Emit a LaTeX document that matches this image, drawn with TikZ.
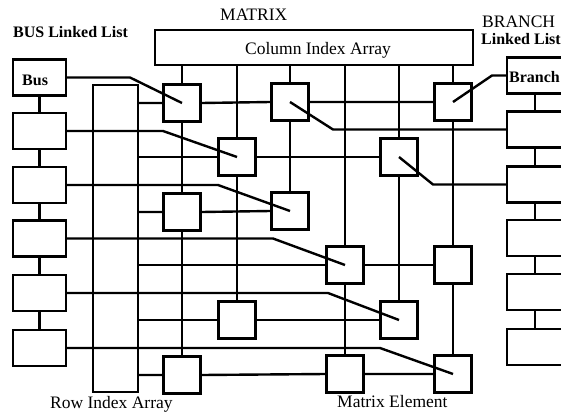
\documentclass[tikz,border=0pt]{standalone}
\usepackage{fontspec}
\setmainfont{Liberation Serif}
\begin{document}
\begin{tikzpicture}[x=1pt,y=-1pt,
  ln/.style={line width=2.4pt},
  listbox/.style={draw,line width=2.4pt,fill=white,minimum width=53pt,minimum height=36pt,inner sep=0pt},
  brbox/.style={draw,line width=2.4pt,fill=white,minimum width=58pt,minimum height=36pt,inner sep=0pt},
  elem/.style={draw,line width=2.4pt,fill=white,minimum width=37pt,minimum height=37pt,inner sep=0pt},
  lbl/.style={font=\fontsize{17.5}{20}\selectfont,inner sep=0pt},
  blbl/.style={font=\fontsize{16}{18}\selectfont\bfseries,inner sep=0pt},
]
\useasboundingbox (0,0) rectangle (561,417);
\clip (0,0) rectangle (561,417);

% labels
\node[blbl,anchor=base west] (tbus) at (13,38) {BUS Linked List};
\node[lbl,anchor=base west] (tmat) at (220,21) {MATRIX};
\node[lbl,anchor=base west] (tbr1) at (482,28) {BRANCH};
\node[blbl,anchor=base west] (tbr2) at (481,45) {Linked List};
\node[lbl,anchor=base west] (trow) at (50,408) {Row Index Array};
\node[lbl,anchor=base west] (telem) at (337,407) {Matrix Element};

% column index array
\node[draw,line width=2.4pt,minimum width=318pt,minimum height=35pt,inner sep=0pt] (colarr) at (314,47.5) {};
\node[lbl,anchor=base] (tcol) at (318,55) {Column Index Array};

% row index array
\node[draw,line width=2.4pt,minimum width=45pt,minimum height=307pt,inner sep=0pt] (rowarr) at (115.5,238.5) {};

% bus boxes
\node[listbox] (bus1) at (39.5,77.5) {};
\node[listbox] (bus2) at (39.5,131) {};
\node[listbox] (bus3) at (39.5,185) {};
\node[listbox] (bus4) at (39.5,238.5) {};
\node[listbox] (bus5) at (39.5,293) {};
\node[listbox] (bus6) at (39.5,348) {};
\node[blbl,anchor=base west] (tbusin) at (22,85) {Bus};

% branch boxes
\node[brbox] (br1) at (536,75.5) {};
\node[brbox] (br2) at (536,129.5) {};
\node[brbox] (br3) at (536,184.5) {};
\node[brbox] (br4) at (536,238) {};
\node[brbox] (br5) at (536,292) {};
\node[brbox] (br6) at (536,347) {};
\node[blbl,anchor=base west] (tbrin) at (509,83) {Branch};

% list connectors
\foreach \a/\b in {1/2,2/3,3/4,4/5,5/6}{
  \draw[ln] (bus\a.south) -- (bus\b.north);
  \draw[ln] (br\a.south -| 535,0) -- (br\b.north -| 535,0);
}

% matrix elements
\node[elem] (e1) at (182,103) {};
\node[elem] (e2) at (290,102) {};
\node[elem] (e3) at (453,102) {};
\node[elem] (e4) at (237,157) {};
\node[elem] (e5) at (399,157) {};
\node[elem] (e6) at (182,212) {};
\node[elem] (e7) at (290,211) {};
\node[elem] (e8) at (345,265) {};
\node[elem] (e9) at (453,265) {};
\node[elem] (e10) at (237,320) {};
\node[elem] (e11) at (399,320) {};
\node[elem] (e12) at (182,375) {};
\node[elem] (e13) at (345,374) {};
\node[elem] (e14) at (453,374) {};

% row lines
\draw[ln] (rowarr.east |- e1) -- (e1.west) (e1.east) -- (e2.west) (e2.east) -- (e3.west);
\draw[ln] (rowarr.east |- e4) -- (e4.west) (e4.east) -- (e5.west);
\draw[ln] (rowarr.east |- e6) -- (e6.west) (e6.east) -- (e7.west);
\draw[ln] (rowarr.east |- e8) -- (e8.west) (e8.east) -- (e9.west);
\draw[ln] (rowarr.east |- e10) -- (e10.west) (e10.east) -- (e11.west);
\draw[ln] (rowarr.east |- e12) -- (e12.west) (e12.east) -- (e13.west) (e13.east) -- (e14.west);

% column lines
\draw[ln] (colarr.south -| e1) -- (e1.north) (e1.south) -- (e6.north) (e6.south) -- (e12.north);
\draw[ln] (colarr.south -| e4) -- (e4.north) (e4.south) -- (e10.north);
\draw[ln] (colarr.south -| e2) -- (e2.north) (e2.south) -- (e7.north);
\draw[ln] (colarr.south -| e8) -- (e8.north) (e8.south) -- (e13.north);
\draw[ln] (colarr.south -| e5) -- (e5.north) (e5.south) -- (e11.north);
\draw[ln] (colarr.south -| e3) -- (e3.north) (e3.south) -- (e9.north) (e9.south) -- (e14.north);

% bus links
\draw[ln] (bus1.east) -- (130,77.5) -- (e1.center);
\draw[ln] (bus2.east) -- (163,131) -- (e4.center);
\draw[ln] (bus3.east) -- (218,185) -- (e7.center);
\draw[ln] (bus4.east) -- (273,238.5) -- (e8.center);
\draw[ln] (bus5.east) -- (328,293) -- (e11.center);
\draw[ln] (bus6.east) -- (380,348) -- (e14.center);

% branch links
\draw[ln] (e3.center) -- (492,75.5) -- (br1.west);
\draw[ln] (e2.center) -- (333,129.5) -- (br2.west);
\draw[ln] (e5.center) -- (433,184.5) -- (br3.west);
\end{tikzpicture}
\end{document}
